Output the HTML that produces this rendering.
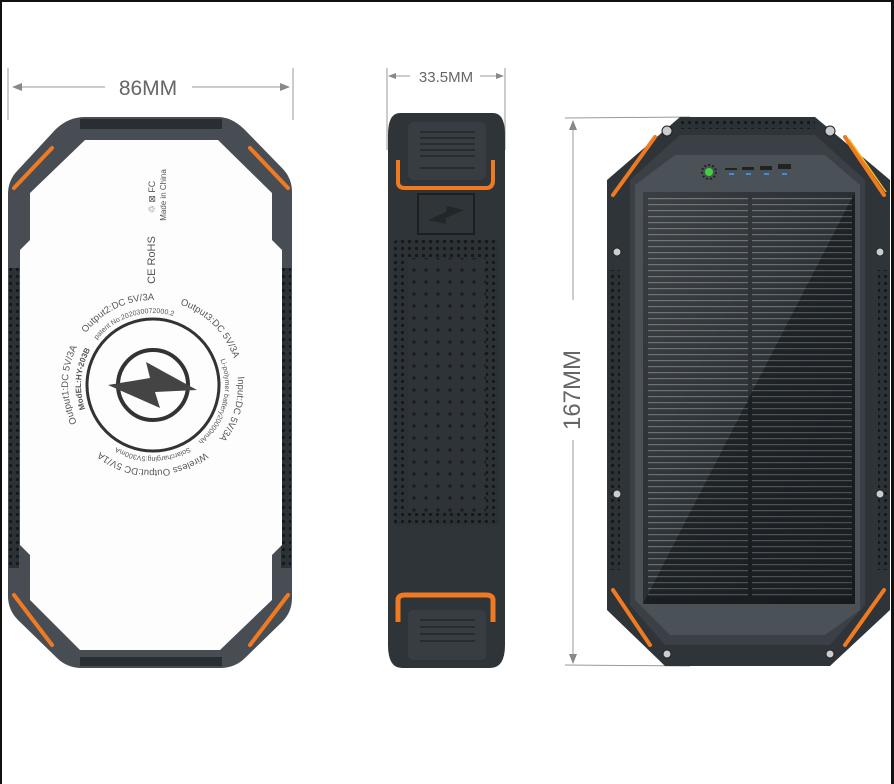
<!DOCTYPE html>
<html><head><meta charset="utf-8"><style>
html,body{margin:0;padding:0;background:#fff}
svg{display:block}
text{font-family:"Liberation Sans",sans-serif}
</style></head><body>
<svg width="894" height="784" viewBox="0 0 894 784" xmlns="http://www.w3.org/2000/svg">
<defs>
<pattern id="dots" width="7" height="7" patternUnits="userSpaceOnUse"><rect width="7" height="7" fill="#2c3136"/><circle cx="3.5" cy="3.5" r="1.6" fill="#151819"/></pattern>
<pattern id="dots2" width="12" height="12" patternUnits="userSpaceOnUse"><rect width="12" height="12" fill="#2e3338"/><circle cx="6" cy="6" r="1.8" fill="#1b1e21"/></pattern>
<pattern id="solar" width="10" height="6" patternUnits="userSpaceOnUse"><rect width="10" height="6" fill="#23282c"/><rect y="0" width="10" height="1.2" fill="#5d656b"/></pattern>
<linearGradient id="gl" x1="0" y1="0" x2="1" y2="1"><stop offset="0" stop-color="#fff" stop-opacity="0.12"/><stop offset="0.5" stop-color="#fff" stop-opacity="0.05"/><stop offset="0.5" stop-color="#000" stop-opacity="0.15"/><stop offset="1" stop-color="#000" stop-opacity="0.25"/></linearGradient>
<path id="c85" d="M153,300 A85,85 0 1 1 153,470 A85,85 0 1 1 153,300 A85,85 0 1 1 153,470 A85,85 0 1 1 153,300"/>
<path id="c72" d="M153,313 A72,72 0 1 1 153,457 A72,72 0 1 1 153,313 A72,72 0 1 1 153,457 A72,72 0 1 1 153,313"/>
</defs>
<rect width="894" height="784" fill="#fff"/>
<rect x="0" y="0" width="894" height="2" fill="#111"/>
<rect x="0" y="0" width="2" height="784" fill="#111"/>
<rect x="891" y="0" width="3" height="784" fill="#111"/>

<!-- 86MM dimension -->
<g stroke="#999" stroke-width="1" fill="none">
<line x1="8" y1="68" x2="8" y2="120"/><line x1="293" y1="68" x2="293" y2="120"/>
<line x1="14" y1="87" x2="105" y2="87"/><line x1="192" y1="87" x2="288" y2="87"/>
</g>
<polygon points="12,87 22,83 22,91" fill="#888"/><polygon points="290,87 280,83 280,91" fill="#888"/>
<text x="148" y="95" font-size="21" fill="#666" text-anchor="middle">86MM</text>

<!-- Left device -->
<path d="M85,117 H218 Q232,117 245,130 L282,168 Q292,178 292,192 V598 Q292,612 282,622 L245,658 Q235,668 220,668 H82 Q67,668 57,658 L18,620 Q8,610 8,596 V194 Q8,180 18,170 L55,130 Q68,117 85,117 Z" fill="#474d53"/>
<rect x="80" y="119" width="142" height="10" fill="#2a2e32"/>
<rect x="80" y="657" width="142" height="9" fill="#2a2e32"/>
<rect x="9" y="268" width="10" height="300" fill="url(#dots)"/>
<rect x="281" y="268" width="10" height="300" fill="url(#dots)"/>
<polygon points="85,140 218,140 272,193 272,240 282,250 282,545 272,555 272,600 220,650 80,650 30,600 30,555 20,545 20,250 30,240 30,193" fill="#fdfdfd"/>
<g stroke="#f07a22" stroke-width="4" stroke-linecap="round" fill="none">
<line x1="14" y1="188" x2="52" y2="148"/><line x1="288" y1="188" x2="250" y2="148"/>
<line x1="14" y1="595" x2="52" y2="645"/><line x1="288" y1="595" x2="250" y2="645"/>
</g>
<circle cx="153" cy="385" r="66" fill="none" stroke="#333" stroke-width="3"/>
<circle cx="153" cy="385" r="35" fill="none" stroke="#333" stroke-width="4"/>
<polygon points="108,385 150,378 146,362 197,390 155,392 160,408" fill="#444"/>
<g fill="#555">
<text transform="translate(166,195) rotate(-90)" text-anchor="middle" font-size="8">Made in China</text>
<text transform="translate(155,197) rotate(-90)" text-anchor="middle" font-size="9">♲ ⊠ FC</text>
<text transform="translate(155,260) rotate(-90)" text-anchor="middle" font-size="11">CE RoHS</text>
<text font-size="9.5" text-anchor="middle">
<textPath href="#c85" startOffset="400">Output1:DC 5V/3A</textPath></text>
<text font-size="9.5" text-anchor="middle"><textPath href="#c85" startOffset="495">Output2:DC 5V/3A</textPath></text>
<text font-size="9.5" text-anchor="middle"><textPath href="#c85" startOffset="67">Output3:DC 5V/3A</textPath></text>
<text font-size="9.5" text-anchor="middle"><textPath href="#c85" startOffset="158">Input:DC 5V/3A</textPath></text>
<text font-size="9.5" text-anchor="middle"><textPath href="#c85" startOffset="267">Wireless Output:DC 5V/1A</textPath></text>
<text font-size="7" text-anchor="middle"><textPath href="#c72" startOffset="430">patent No:202030072000.2</textPath></text>
<text font-size="8" font-weight="bold" text-anchor="middle"><textPath href="#c72" startOffset="345">ModEL:HY-203B</textPath></text>
<text font-size="7" text-anchor="middle"><textPath href="#c72" startOffset="132">Li-polymer battery20000mAh</textPath></text>
<text font-size="7" text-anchor="middle"><textPath href="#c72" startOffset="226">Solarcharging:5V300mA</textPath></text>
</g>

<!-- 33.5MM dimension -->
<g stroke="#999" stroke-width="1"><line x1="387" y1="68" x2="387" y2="150"/><line x1="505" y1="68" x2="505" y2="150"/>
<line x1="390" y1="76" x2="410" y2="76"/><line x1="480" y1="76" x2="502" y2="76"/></g>
<polygon points="388,76 396,73 396,79" fill="#888"/><polygon points="504,76 496,73 496,79" fill="#888"/>
<text x="446" y="82" font-size="15" fill="#666" text-anchor="middle">33.5MM</text>

<!-- Middle device -->
<path d="M400,113 H493 Q505,113 505,135 V645 Q505,668 490,668 H402 Q388,668 388,645 V135 Q388,113 400,113 Z" fill="#2f3438"/>
<rect x="408" y="122" width="78" height="58" rx="6" fill="#373d42"/>
<g stroke="#22272a" stroke-width="1.5"><line x1="420" y1="132" x2="475" y2="132"/><line x1="420" y1="138" x2="475" y2="138"/><line x1="420" y1="144" x2="475" y2="144"/><line x1="420" y1="150" x2="475" y2="150"/><line x1="420" y1="156" x2="475" y2="156"/><line x1="420" y1="168" x2="475" y2="168"/></g>
<path d="M398,160 V182 Q398,188 405,188 H486 Q493,188 493,180 V160" fill="none" stroke="#f07a22" stroke-width="4"/>
<rect x="418" y="194" width="56" height="40" fill="#30353a" stroke="#1c1f22" stroke-width="2"/>
<polygon points="428,220 446,212 447,206 464,210 446,218 446,224" fill="#22272a"/>
<rect x="393" y="240" width="106" height="285" rx="4" fill="url(#dots)"/>
<rect x="408" y="258" width="78" height="255" fill="url(#dots2)"/>
<path d="M398,622 V600 Q398,595 405,595 H486 Q493,595 493,600 V622" fill="none" stroke="#f07a22" stroke-width="5"/>
<rect x="408" y="610" width="78" height="50" rx="5" fill="#373d42"/>
<g stroke="#22272a" stroke-width="1.5"><line x1="420" y1="620" x2="475" y2="620"/><line x1="420" y1="627" x2="475" y2="627"/><line x1="420" y1="634" x2="475" y2="634"/><line x1="420" y1="641" x2="475" y2="641"/></g>

<!-- 167MM dimension -->
<g stroke="#999" stroke-width="1"><line x1="565" y1="118" x2="690" y2="117"/><line x1="565" y1="665" x2="690" y2="666"/>
<line x1="573" y1="125" x2="573" y2="300"/><line x1="573" y1="440" x2="573" y2="660"/></g>
<polygon points="573,120 569,130 577,130" fill="#888"/><polygon points="573,664 569,654 577,654" fill="#888"/>
<text transform="translate(580,390) rotate(-90)" font-size="24" fill="#666" text-anchor="middle">167MM</text>

<!-- Right device -->
<polygon points="680,117 815,117 890,180 890,610 830,666 665,666 607,610 607,180" fill="#2e3438"/>
<rect x="680" y="119" width="135" height="10" fill="url(#dots)"/>
<rect x="608" y="270" width="12" height="300" fill="url(#dots)"/>
<rect x="878" y="270" width="12" height="300" fill="url(#dots)"/>
<polygon points="680,135 815,135 865,180 865,605 830,645 665,645 630,605 630,180" fill="#3a4045"/>
<polygon points="675,155 825,155 860,185 860,610 825,635 670,635 635,600 635,185" fill="#4a5157"/>
<rect x="643" y="192" width="212" height="412" fill="#1f2428"/>
<rect x="648" y="197" width="100" height="400" fill="url(#solar)"/>
<rect x="752" y="197" width="100" height="400" fill="url(#solar)"/>
<rect x="643" y="192" width="212" height="412" fill="url(#gl)"/>
<circle cx="709" cy="172" r="4" fill="#3dd13a"/><circle cx="709" cy="172" r="7" fill="none" stroke="#222" stroke-width="2" stroke-dasharray="2 2"/>
<rect x="725" y="168" width="12" height="2" fill="#222"/><rect x="742" y="167" width="12" height="3" fill="#222"/><rect x="760" y="166" width="12" height="4" fill="#222"/><rect x="778" y="164" width="13" height="5" fill="#222"/>
<g fill="#3b8fe0"><rect x="729" y="173" width="5" height="2"/><rect x="746" y="173" width="5" height="2"/><rect x="764" y="173" width="5" height="2"/><rect x="782" y="173" width="5" height="2"/></g>
<g stroke="#f07a22" stroke-width="4" stroke-linecap="round" fill="none">
<line x1="613" y1="195" x2="655" y2="137"/><line x1="884" y1="195" x2="845" y2="137"/>
<line x1="613" y1="590" x2="650" y2="645"/><line x1="884" y1="590" x2="845" y2="645"/>
</g>
<line x1="849" y1="139" x2="886" y2="192" stroke="#f5c023" stroke-width="1.5"/>
<g fill="#c9cdd0" stroke="#222"><circle cx="667" cy="131" r="5"/><circle cx="830" cy="131" r="5"/><circle cx="617" cy="252" r="4"/><circle cx="880" cy="252" r="4"/><circle cx="617" cy="494" r="4"/><circle cx="880" cy="494" r="4"/><circle cx="667" cy="654" r="4"/><circle cx="830" cy="654" r="4"/></g>
</svg>
</body></html>
